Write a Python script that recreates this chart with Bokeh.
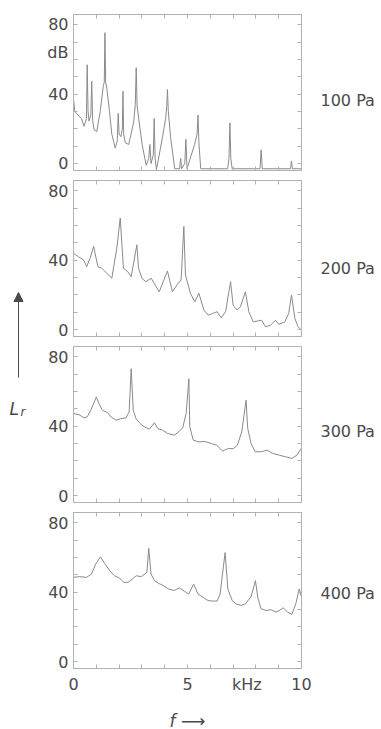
from bokeh.plotting import figure
from bokeh.models import Range1d, FixedTicker, LinearAxis, Label, Arrow, NormalHead, ColumnDataSource
from bokeh.layouts import column, row
from bokeh.embed import file_html
from bokeh.resources import INLINE

# ---------------- data ----------------
freq_100 = [0.00, 0.06, 0.20, 0.35, 0.46, 0.57, 0.60, 0.64, 0.68, 0.76, 0.80, 0.84, 0.90, 1.02,
            1.17, 1.31, 1.35, 1.38, 1.41, 1.46, 1.58, 1.68, 1.83, 1.92, 1.96, 2.00, 2.08, 2.14,
            2.17, 2.20, 2.27, 2.42, 2.64, 2.71, 2.75, 2.79, 2.86, 3.01, 3.19, 3.30, 3.35, 3.40,
            3.50, 3.54, 3.58, 3.64, 3.90, 4.04, 4.09, 4.12, 4.16, 4.26, 4.44, 4.65, 4.70, 4.74,
            4.88, 4.93, 4.98, 5.31, 5.42, 5.46, 5.50, 5.58, 6.76, 6.82, 6.86, 6.90, 6.96, 8.18,
            8.23, 8.28, 9.52, 9.56, 9.60, 10.00]
level_100 = [37, 30, 28, 26, 21.5, 26, 57, 30, 24.5, 28, 47.5, 25, 19.5, 18.5,
             30, 45, 47, 75.5, 47, 43.5, 30, 17, 9, 13, 29, 17, 15.5, 20,
             41.7, 17, 12, 11, 24, 34, 55.3, 33, 26, 11, -1, 3, 11, 0,
             5, 26, 3, -3.5, 15, 26, 33, 42.7, 30, 15, -3, -3, 3, -3,
             0, 14, -3, 11, 17, 28, 12, -3, -3, 3, 23.5, 3, -3, -3,
             8, -3, -3, 1.5, -3, -3]

freq_200 = [0.00, 0.22, 0.44, 0.58, 0.73, 0.88, 1.07, 1.24, 1.46, 1.68, 1.90, 2.05, 2.19, 2.38,
            2.53, 2.78, 2.85, 3.00, 3.17, 3.41, 3.58, 3.76, 4.12, 4.34, 4.53, 4.72, 4.84, 4.91,
            5.13, 5.32, 5.50, 5.72, 5.91, 6.11, 6.30, 6.48, 6.67, 6.89, 7.00, 7.18, 7.32, 7.54,
            7.69, 7.88, 8.10, 8.25, 8.42, 8.64, 8.86, 9.00, 9.27, 9.44, 9.56, 9.71, 9.85, 10.00]
level_200 = [44, 42, 40.2, 36.3, 41.2, 48, 36.3, 35.4, 32.5, 29.6, 47, 64.3, 35.4, 33.4,
             30.5, 48.9, 35.4, 29.6, 27.6, 29.6, 25.7, 21.8, 33.8, 21.8, 25.7, 28.6, 59.5, 31.5,
             20.9, 16, 20.9, 11.2, 8.3, 9.3, 10.3, 6.8, 10.3, 27.6, 14.1, 11.2, 13.2, 21.8,
             10.3, 4.5, 5, 5.4, 1.6, 2.5, 5.4, 3, 4.5, 9.3, 19.9, 6.4, 1.6, -0.4]

freq_300 = [0.00, 0.24, 0.46, 0.60, 0.76, 1.00, 1.12, 1.27, 1.49, 1.64, 1.86, 2.08, 2.30, 2.44,
            2.53, 2.62, 2.74, 2.92, 3.10, 3.33, 3.55, 3.70, 3.91, 4.13, 4.43, 4.62, 4.79, 4.94,
            5.06, 5.10, 5.25, 5.47, 5.76, 6.06, 6.28, 6.54, 6.79, 7.00, 7.19, 7.38, 7.57, 7.64,
            7.79, 7.96, 8.25, 8.48, 8.74, 9.00, 9.29, 9.58, 9.80, 9.99]
level_300 = [47.3, 46.7, 44.8, 45.4, 49.2, 56.9, 53, 49.2, 47.9, 45.4, 43.5, 44.4, 44.8, 48.3,
             73.2, 49.2, 44.4, 41.6, 39.7, 38.3, 42, 38.6, 37.7, 35.8, 34.9, 36.8, 39.1, 47.3,
             67.4, 39.7, 32, 31, 31.2, 30, 29, 25.7, 27.2, 27, 29.1, 36.8, 55, 38.8,
             30, 25.3, 25.3, 26.2, 24.3, 23.4, 22.4, 21.4, 23.4, 27.2]

freq_400 = [0.00, 0.26, 0.57, 0.79, 0.97, 1.18, 1.37, 1.59, 1.80, 2.02, 2.20, 2.39, 2.58, 2.75,
            2.97, 3.22, 3.30, 3.40, 3.55, 3.74, 3.94, 4.17, 4.42, 4.64, 4.86, 5.05, 5.27, 5.46,
            5.68, 5.90, 6.12, 6.30, 6.43, 6.65, 6.77, 6.96, 7.13, 7.35, 7.54, 7.79, 7.98, 8.08,
            8.22, 8.44, 8.66, 8.88, 9.03, 9.20, 9.39, 9.58, 9.75, 9.90, 9.97]
level_400 = [48.6, 49, 48.6, 50.5, 56.2, 60.4, 56.6, 52.4, 49.5, 48.2, 45.7, 45.7, 47.6, 49.5,
             49, 51.4, 65.3, 50.5, 46.7, 45.1, 43.8, 41.9, 41, 42.5, 40.6, 38.9, 44.7, 39,
             37.1, 35.2, 34.9, 34.9, 39, 62.9, 41.9, 35.2, 33.3, 32.4, 33.3, 37.5, 46.7, 37.1,
             30.5, 29.5, 29.9, 28.6, 29.5, 31, 28.6, 27.2, 33.3, 41.9, 38]

panel_tags = ["100 Pa", "200 Pa", "300 Pa", "400 Pa"]
tag_levels = [36.5, 35.5, 37, 39]
y_labels = [0, 40, 80]
unit_level = 64            # where "dB" stands on the first panel's level axis
y_minor = [0, 10, 20, 30, 40, 50, 60, 70, 80]
x_labels = [0, 5, 10]
unit_freq = 7.6            # where "kHz" stands on the frequency axis
x_minor = [0, 1, 2, 3, 4, 5, 6, 7, 8, 9, 10]

# ---------------- style ----------------
FONT = "DejaVu Sans"
TXT = "#4a4a4a"
EDGE = "#b2b2b2"
CURVE = "#8a8a8a"
FRAME_W, FRAME_H = 228, 156
X_RANGE = Range1d(0, 10)


def style_axis(ax, standoff=5):
    ax.axis_line_color = EDGE
    ax.major_tick_line_color = None
    ax.major_tick_in = 0
    ax.major_tick_out = 0
    ax.minor_tick_line_color = EDGE
    ax.minor_tick_in = 4
    ax.minor_tick_out = 0
    ax.major_label_text_font = FONT
    ax.major_label_text_font_size = "16px"
    ax.major_label_text_color = TXT
    ax.major_label_standoff = standoff


def panel(freq, level, tag, tag_y, top, bottom, last, first):
    p = figure(frame_width=FRAME_W, frame_height=FRAME_H,
               x_range=X_RANGE, y_range=Range1d(-4, 86),
               x_axis_location=None, y_axis_location=None,
               min_border_left=35, min_border_right=77,
               min_border_top=top, min_border_bottom=bottom,
               output_backend="svg", toolbar_location=None)
    p.outline_line_color = EDGE
    p.grid.visible = False
    p.background_fill_color = "white"
    p.border_fill_color = "white"

    # level axis (left) with 0/40/80 (+ "dB" on the first panel)
    lticks = y_labels + ([unit_level] if first else [])
    left = LinearAxis(ticker=FixedTicker(ticks=lticks, minor_ticks=y_minor))
    style_axis(left)
    if first:
        left.major_label_overrides = {unit_level: "dB"}
    p.add_layout(left, "left")

    # right side: tick marks plus the pressure tag
    right = LinearAxis(ticker=FixedTicker(ticks=[tag_y], minor_ticks=y_minor))
    style_axis(right, standoff=19)
    right.major_label_overrides = {tag_y: tag}
    p.add_layout(right, "right")

    # frequency axis
    if last:
        below = LinearAxis(ticker=FixedTicker(ticks=x_labels + [unit_freq], minor_ticks=x_minor))
        style_axis(below, standoff=6)
        below.major_label_overrides = {unit_freq: "kHz"}
        below.axis_label = "f \u27f6"
        below.axis_label_text_font = FONT
        below.axis_label_text_font_style = "italic"
        below.axis_label_text_font_size = "17px"
        below.axis_label_text_color = TXT
        below.axis_label_standoff = 14
    else:
        below = LinearAxis(ticker=FixedTicker(ticks=[], minor_ticks=x_minor))
        style_axis(below, standoff=0)
    p.add_layout(below, "below")

    above = LinearAxis(ticker=FixedTicker(ticks=[], minor_ticks=x_minor))
    style_axis(above, standoff=0)
    p.add_layout(above, "above")

    src = ColumnDataSource(dict(f=freq, L=level))
    p.line("f", "L", source=src, line_color=CURVE, line_width=1)
    return p


p1 = panel(freq_100, level_100, panel_tags[0], tag_levels[0], 14, 5, False, True)
p2 = panel(freq_200, level_200, panel_tags[1], tag_levels[1], 5, 5, False, False)
p3 = panel(freq_300, level_300, panel_tags[2], tag_levels[2], 5, 5, False, False)
p4 = panel(freq_400, level_400, panel_tags[3], tag_levels[3], 5, 58, True, False)

# left strip: L_r with upward arrow (strip units = pixels)
STRIP_H = 726
pl = figure(width=38, height=STRIP_H, x_range=Range1d(0, 38), y_range=Range1d(STRIP_H, 0),
            x_axis_location=None, y_axis_location=None, min_border=0,
            output_backend="svg", toolbar_location=None)
pl.outline_line_color = None
pl.grid.visible = False
pl.add_layout(Arrow(x_start=18, y_start=377, x_end=18, y_end=292, line_color=TXT,
                    line_width=1, end=NormalHead(size=9, fill_color=TXT, line_color=TXT)))
pl.add_layout(Label(x=9, y=408, text="L", text_align="left", text_baseline="alphabetic",
                    text_font=FONT, text_font_style="italic", text_font_size="17px",
                    text_color=TXT))
pl.add_layout(Label(x=20, y=411, text="r", text_align="left", text_baseline="alphabetic",
                    text_font=FONT, text_font_style="italic", text_font_size="12px",
                    text_color=TXT))

layout = row(pl, column(p1, p2, p3, p4))

with open("out.html", "w") as fh:
    fh.write(file_html(layout, INLINE))
